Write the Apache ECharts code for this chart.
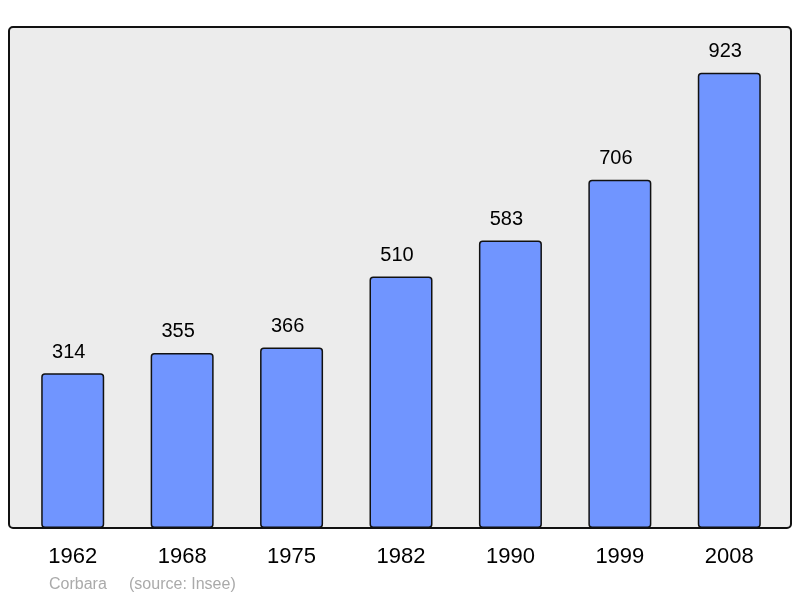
<!DOCTYPE html>
<html>
<head>
<meta charset="utf-8">
<script src="https://cdn.jsdelivr.net/npm/echarts@6/dist/echarts.min.js"></script>
<style>
  html, body { margin: 0; padding: 0; background: #fff; }
  #chart { width: 800px; height: 598px; }
</style>
</head>
<body>
<div id="chart"></div>
<script>
const years = ['1962', '1968', '1975', '1982', '1990', '1999', '2008'];
const population = [314, 355, 366, 510, 583, 706, 923];
const footerText = 'Corbara     (source: Insee)';

const chart = echarts.init(document.getElementById('chart'));

chart.setOption({
  animation: false,
  textStyle: { fontFamily: 'Liberation Sans, Arial, sans-serif' },
  grid: {
    left: 18,
    right: 16,
    top: 27,
    bottom: 70,
  },
  graphic: [
    {
      type: 'rect',
      z: -10,
      shape: { x: 9, y: 27, width: 782, height: 501, r: 4 },
      style: { fill: '#ececec' },
    },
    {
      type: 'rect',
      z: 100,
      shape: { x: 9, y: 27, width: 782, height: 501, r: 4 },
      style: { fill: 'none', stroke: '#111', lineWidth: 2 },
    },
    {
      type: 'text',
      left: 49,
      top: 577,
      style: {
        text: footerText,
        fill: '#aaaaaa',
        font: '16px Liberation Sans, Arial, sans-serif',
      },
    },
  ],
  xAxis: {
    type: 'category',
    data: years,
    axisLine: { show: false },
    axisTick: { show: false },
    axisLabel: {
      color: '#000',
      fontSize: 22,
      margin: 18,
    },
  },
  yAxis: {
    type: 'value',
    min: 0,
    max: 1016,
    show: false,
    splitLine: { show: false },
  },
  series: [
    {
      type: 'bar',
      data: population,
      barWidth: 63,
      itemStyle: {
        color: '#7095ff',
        borderColor: '#111',
        borderWidth: 1.5,
        borderRadius: 3,
      },
      label: {
        show: true,
        position: 'top',
        distance: 11,
        offset: [-4, 0],
        color: '#000',
        fontSize: 20,
      },
    },
  ],
});
</script>
</body>
</html>
